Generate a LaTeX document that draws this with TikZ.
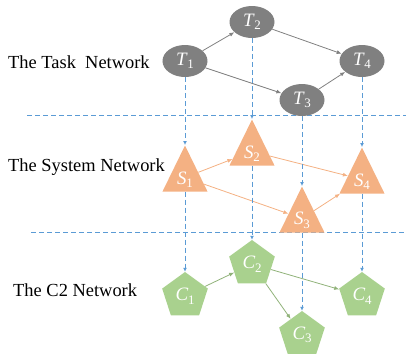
\documentclass[tikz,border=0pt]{standalone}
\usepackage{fontspec}
\setmainfont{Liberation Serif}
\usetikzlibrary{shapes.geometric,arrows.meta}
\definecolor{tgray}{HTML}{808080}
\definecolor{sorange}{HTML}{F4B183}
\definecolor{cgreen}{HTML}{A9D18E}
\definecolor{dblue}{HTML}{5B9BD5}
\newcommand\lab[2]{\textit{#1}\kern-0.3pt\raisebox{-0.4ex}{\fontsize{13}{13}\selectfont #2}}
\tikzset{
  tasknode/.style={ellipse,fill=tgray,draw=none,minimum width=45bp,minimum height=32bp,inner sep=0pt,text=white,font=\fontsize{19}{19}\selectfont},
  sysnode/.style={isosceles triangle,shape border rotate=90,isosceles triangle stretches,fill=sorange,draw=none,minimum width=45bp,minimum height=46bp,inner sep=0pt,anchor=apex},
  sysl/.style={label={[text=white,font=\fontsize{19}{19}\selectfont,yshift=-2bp]center:#1}},
  c2node/.style={regular polygon,regular polygon sides=5,fill=cgreen,draw=none,minimum size=48bp,inner sep=0pt,text=white,font=\fontsize{19}{19}\selectfont},
  netlabel/.style={anchor=west,inner sep=0pt,font=\fontsize{18.5}{18.5}\selectfont},
  tarrow/.style={draw=tgray,line width=0.8bp,-{Latex[length=5bp,width=4bp]}},
  sarrow/.style={draw=sorange,line width=0.8bp,-{Latex[length=5bp,width=4bp]}},
  carrow/.style={draw=cgreen!85!black,line width=0.8bp,-{Latex[length=5bp,width=4bp]}},
  darrow/.style={draw=dblue,line width=0.9bp,dash pattern=on 5bp off 3bp,-{Latex[length=4bp,width=4bp]}},
  dline/.style={draw=dblue,line width=0.9bp,dash pattern=on 5bp off 3bp},
}
\begin{document}
\begin{tikzpicture}[x=1bp,y=-1bp]
\useasboundingbox (0,0) rectangle (409,354);
% separator lines
\coordinate (h1a) at (27,115); \coordinate (h1b) at (406,115);
\coordinate (h2a) at (31,232); \coordinate (h2b) at (406,232);
\draw[dline] (h1a) -- (h1b);
\draw[dline] (h2a) -- (h2b);
% labels
\node[netlabel] (lt) at (8,62) {The Task\ \ Network};
\node[netlabel] (ls) at (8,167) {The System Network};
\node[netlabel] (lc) at (13,290) {The C2 Network};
% task nodes
\node[tasknode] (T1) at (185,61) {\lab{T}{1}};
\node[tasknode] (T2) at (252,22) {\lab{T}{2}};
\node[tasknode] (T3) at (302,100) {\lab{T}{3}};
\node[tasknode] (T4) at (362,61) {\lab{T}{4}};
% system nodes
\node[sysnode,sysl={\lab{S}{1}}] (S1) at (185,145) {};
\node[sysnode,sysl={\lab{S}{2}}] (S2) at (252,119) {};
\node[sysnode,sysl={\lab{S}{3}}] (S3) at (302,186) {};
\node[sysnode,sysl={\lab{S}{4}}] (S4) at (362,147) {};
% c2 nodes
\node[c2node] (C1) at (185,296) {\lab{C}{1}};
\node[c2node] (C2) at (252,264) {\lab{C}{2}};
\node[c2node] (C3) at (302,335) {\lab{C}{3}};
\node[c2node] (C4) at (362,296) {\lab{C}{4}};
% task arrows
\draw[tarrow] (T1) -- (T2);
\draw[tarrow] (T1) -- (T3);
\draw[tarrow] (T2) -- (T4);
\draw[tarrow] (T3) -- (T4);
% system arrows
\draw[sarrow] (S1) -- (S2);
\draw[sarrow] (S1) -- (S3);
\draw[sarrow] (S2) -- (S4);
\draw[sarrow] (S3) -- (S4);
% c2 arrows
\draw[carrow] (C1) -- (C2);
\draw[carrow] (C2) -- (C3);
\draw[carrow] (C2) -- (C4);
% mapping arrows
\draw[darrow] (T1.south) -- (S1.apex);
\draw[darrow] (T2.south) -- (S2.apex);
\draw[darrow] (T3.south) -- (S3.apex);
\draw[darrow] (T4.south) -- (S4.apex);
\draw[darrow] (S1.lower side) -- (C1.corner 1);
\draw[darrow] (S2.lower side) -- (C2.corner 1);
\draw[darrow] (S3.lower side) -- (C3.corner 1);
\draw[darrow] (S4.lower side) -- (C4.corner 1);
\end{tikzpicture}
\end{document}
